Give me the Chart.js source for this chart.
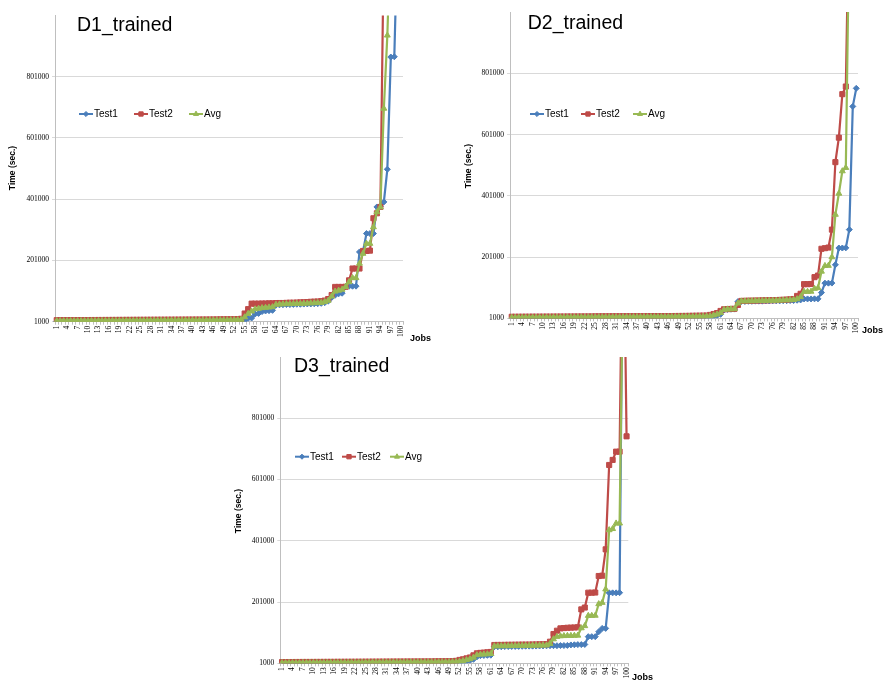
<!DOCTYPE html>
<html><head><meta charset="utf-8">
<script src="https://cdn.jsdelivr.net/npm/chart.js@4"></script>
<style>
html,body{margin:0;padding:0;background:#fff;}
#wrap{position:relative;width:885px;height:686px;overflow:hidden;background:#fff;}
canvas{position:absolute;}
</style></head><body>
<div id="wrap">
<canvas id="c1" width="440" height="345" style="left:0px;top:0px;width:440px;height:345px"></canvas>
<canvas id="c2" width="445" height="345" style="left:440px;top:0px;width:445px;height:345px"></canvas>
<canvas id="c3" width="440" height="346" style="left:220px;top:340px;width:440px;height:346px"></canvas>
</div>
<script>
// ---------- DATA ----------
const jobs = Array.from({length:100}, (_, i) => String(i + 1));
const yTicks = [1000, 201000, 401000, 601000, 801000];
const seriesNames = ['Test1', 'Test2', 'Avg'];
const panelTitles = ['D1_trained', 'D2_trained', 'D3_trained'];
const yAxisTitle = 'Time (sec.)';
const xAxisTitle = 'Jobs';

const d1Test1 = [
1000,1000,1000,1100,1100,1200,1200,1300,1300,1400,
1400,1500,1500,1600,1600,1700,1700,1800,1800,1900,
1900,2000,2000,2100,2100,2200,2200,2300,2300,2400,
2400,2500,2500,2600,2600,2700,2700,2800,2800,2900,
2900,3000,3000,3100,3100,3200,3300,3400,3500,3600,
3700,3900,4100,4500,
5000,12000,13000,26000,28000,34000,36000,37000,38000,55000,
56000,56500,57000,57000,57500,58000,58000,58500,59000,59000,59500,60000,61000,63000,
68000,80000,87500,92000,94000,116000,116800,116800,117000,
228700,230000,288800,288800,288800,375600,378000,392000,498600,865000,866000,1300000,1800000];
const d1Test2 = [
6000,6000,6100,6100,6200,6200,6300,6300,6400,6400,
6500,6500,6600,6600,6700,6700,6800,6800,6900,6900,
7000,7000,7100,7100,7200,7200,7300,7300,7400,7400,
7500,7500,7600,7600,7700,7700,7800,7800,7900,7900,
8000,8000,8100,8100,8200,8300,8400,8500,8600,8700,
8800,9000,9500,10500,
27800,42000,60000,60000,60000,60500,60500,61000,61000,61500,
62000,62000,62500,63000,63000,63500,64000,64500,65000,66000,66500,67000,68000,
70000,75000,88000,114500,114500,114500,115000,
136000,174600,174600,174600,232000,232000,233000,338700,355000,375600,1250000,1500000,1700000,1900000,2100000,2400000];
const d1Avg = [
3500,3500,3600,3600,3700,3700,3800,3800,3900,3900,
4000,4000,4100,4100,4200,4200,4300,4300,4400,4400,
4500,4500,4600,4600,4700,4700,4800,4800,4900,4900,
5000,5000,5100,5100,5200,5200,5300,5300,5400,5400,
5500,5500,5600,5600,5700,5800,5900,6000,6100,6200,
6300,6500,6800,7500,
16000,27000,35000,42000,44000,46000,47000,48000,49000,57000,
58000,58500,59000,59000,59500,60000,60000,60500,61000,61500,62000,62500,63000,
66000,70000,84000,100000,103000,106000,115000,
130900,143900,143900,190900,223500,256000,256000,310000,359000,375000,697000,935800,1300000,1400000,1600000,2000000];

const d2Test1 = [
1000,1000,1000,1100,1100,1200,1200,1300,1300,1400,
1400,1500,1500,1600,1600,1700,1700,1800,1800,1900,
1900,2000,2000,2100,2100,2200,2200,2300,2300,2400,
2400,2500,2500,2600,2600,2700,2700,2800,2800,2900,
2900,3000,3000,3100,3100,3200,3300,3400,3500,3600,
3700,3800,3900,4000,4200,4400,4600,
5000,7000,10000,14000,28000,30000,30500,31000,55500,
56000,56000,56500,56500,57000,57000,57000,57500,57500,58000,58000,58000,58500,58500,59000,59000,
60000,61000,64300,64300,64300,64500,64500,85000,115800,115800,116000,175800,230500,230500,231000,290600,693000,752000];
const d2Test2 = [
6000,6000,6100,6100,6200,6200,6300,6300,6400,6400,
6500,6500,6600,6600,6700,6700,6800,6800,6900,6900,
7000,7000,7100,7100,7200,7200,7300,7300,7400,7400,
7500,7500,7600,7600,7700,7700,7800,7800,7900,7900,
8000,8000,8100,8100,8200,8300,8400,8500,8600,8700,
8800,9000,9200,9400,9600,9800,10000,
12000,15000,18000,25000,30500,31000,31500,32000,44600,
57700,58000,58500,58500,59000,59000,59500,59500,60000,60000,60500,61000,61500,62000,63000,64000,
74000,81000,112500,112500,113000,135400,140600,228000,230000,232000,290600,511000,591000,733000,758000,1400000,1800000,2200000];
const d2Avg = [
3500,3500,3600,3600,3700,3700,3800,3800,3900,3900,
4000,4000,4100,4100,4200,4200,4300,4300,4400,4400,
4500,4500,4600,4600,4700,4700,4800,4800,4900,4900,
5000,5000,5100,5100,5200,5200,5300,5300,5400,5400,
5500,5500,5600,5600,5700,5800,5900,6000,6100,6200,
6300,6400,6500,6700,6900,7100,7300,
8000,11000,14000,19000,29000,30500,31000,31500,50000,
56800,57000,57200,57500,57800,58000,58200,58500,58800,59000,59300,59700,60000,60500,61000,61500,
64000,71000,88000,88000,88500,98000,100000,154000,172500,173000,201000,339800,408600,481700,492800,1300000,1500000,1700000];

const d3Test1 = [
1000,1000,1000,1100,1100,1200,1200,1300,1300,1400,
1400,1500,1500,1600,1600,1700,1700,1800,1800,1900,
1900,2000,2000,2100,2100,2200,2200,2300,2300,2400,
2400,2500,2500,2600,2600,2700,2700,2800,2800,2900,
2900,3000,3000,3100,3100,3200,3300,3400,3500,3600,
3800,4000,5000,7000,10000,14000,22000,26000,26500,27000,27500,55000,
55000,55200,55500,55700,56000,56000,56200,56500,56800,57000,57000,57200,57500,57800,58000,
58500,58500,58500,59000,59000,59500,61000,61500,62000,62000,62500,
88000,88000,88000,104000,115000,115000,231000,231000,231000,231500,1500000,1800000];
const d3Test2 = [
5000,5000,5100,5100,5200,5200,5300,5300,5400,5400,
5500,5500,5600,5600,5700,5700,5800,5800,5900,5900,
6000,6000,6100,6100,6200,6200,6300,6300,6400,6400,
6500,6500,6600,6600,6700,6700,6800,6800,6900,6900,
7000,7000,7100,7100,7200,7300,7400,7500,7600,7800,
9000,12000,14000,17000,20000,27000,33600,35000,36000,37000,38000,60800,
61000,61000,61200,61400,61500,61700,61800,62000,62000,62200,62400,62600,62800,63000,63500,
71500,96600,107400,115000,116000,117000,117500,118000,118500,177000,183000,
231500,231500,232000,286000,287000,373000,648500,665000,692000,692000,1600000,742000];
const d3Avg = [
2500,2500,2600,2600,2700,2700,2800,2800,2900,2900,
3000,3000,3100,3100,3200,3200,3300,3300,3400,3400,
3500,3500,3600,3600,3700,3700,3800,3800,3900,3900,
4000,4000,4100,4100,4200,4200,4300,4300,4400,4400,
4500,4500,4600,4600,4700,4800,4900,5000,5100,5200,
5500,7000,9000,12000,15000,20000,28000,30000,30500,31000,32000,57000,
57200,57400,57500,57700,58000,58200,58400,58600,58800,59000,59200,59400,59600,59800,60000,
65000,80000,88000,90000,90500,91000,91000,91500,92000,116000,123000,
156500,156500,157000,194600,199000,242600,436200,440000,458000,458000,1300000,1600000];

// ---------- STYLE ----------
const colors = ['#4A7EBB', '#BE4B48', '#98B954'];
const pStyles = ['rectRot', 'rect', 'triangle'];
const pRadius = [3, 3.6, 3.4];

const decor = {
  id: 'decor',
  afterDraw(chart, args, o) {
    const ctx = chart.ctx;
    ctx.save();
    ctx.fillStyle = '#000';
    ctx.textAlign = 'left';
    ctx.textBaseline = 'alphabetic';
    ctx.font = '19.5px "Liberation Sans", Arial, sans-serif';
    ctx.fillText(o.title, o.titleX, o.titleY);
    ctx.font = 'bold 8.5px "Liberation Sans", Arial, sans-serif';
    ctx.save();
    ctx.translate(o.yTitleX, o.yTitleY);
    ctx.rotate(-Math.PI / 2);
    ctx.textAlign = 'center';
    ctx.textBaseline = 'middle';
    ctx.fillText(yAxisTitle, 0, 0);
    ctx.restore();
    ctx.font = 'bold 9px "Liberation Sans", Arial, sans-serif';
    ctx.fillText(xAxisTitle, o.jobsX, o.jobsY);
    // legend
    ctx.font = '10px "Liberation Sans", Arial, sans-serif';
    chart.data.datasets.forEach((ds, i) => {
      const x0 = o.legendX[i], y = o.legendY;
      ctx.strokeStyle = ds.borderColor;
      ctx.lineWidth = 2;
      ctx.beginPath(); ctx.moveTo(x0, y); ctx.lineTo(x0 + 14, y); ctx.stroke();
      ctx.fillStyle = ds.borderColor;
      ctx.lineWidth = 1;
      Chart.helpers.drawPoint(ctx, {pointStyle: ds.pointStyle, radius: ds.pointRadius * 0.85, borderWidth: 1, rotation: 0}, x0 + 7, y);
      ctx.fillStyle = '#000';
      ctx.textBaseline = 'middle';
      ctx.fillText(ds.label, x0 + 15, y + 0.5);
    });
    ctx.restore();
  }
};

function makeChart(id, series, cfg) {
  const datasets = series.map((data, i) => ({
    label: seriesNames[i],
    data: data,
    borderColor: colors[i],
    backgroundColor: colors[i],
    pointBackgroundColor: colors[i],
    pointBorderColor: colors[i],
    pointStyle: pStyles[i],
    pointRadius: pRadius[i],
    pointBorderWidth: 1,
    borderWidth: 2.2,
    tension: 0,
    order: 3 - i
  }));
  return new Chart(document.getElementById(id), {
    type: 'line',
    data: {labels: jobs, datasets: datasets},
    options: {
      responsive: false,
      animation: false,
      events: [],
      layout: {padding: {left: 0, top: cfg.top, right: cfg.right, bottom: 0}},
      plugins: {
        legend: {display: false},
        tooltip: {enabled: false},
        decor: cfg.decor
      },
      scales: {
        x: {
          type: 'category',
          offset: true,
          afterFit: s => { s.height = cfg.xH; },
          ticks: {
            autoSkip: false, maxRotation: 90, minRotation: 90, padding: 1,
            font: {family: '"Liberation Serif", "Times New Roman", serif', size: 7.5},
            color: '#000',
            callback: function (v, i) { return i % 3 === 0 ? this.getLabelForValue(v) : ''; }
          },
          grid: {drawOnChartArea: false, drawTicks: true, tickLength: 3, color: '#bfbfbf', offset: true},
          border: {color: '#bfbfbf'}
        },
        y: {
          min: 1000, max: 1001000,
          afterBuildTicks: s => { s.ticks = yTicks.map(v => ({value: v})); },
          afterFit: s => { s.width = cfg.yW; },
          ticks: {
            padding: 3,
            font: {family: '"Liberation Serif", "Times New Roman", serif', size: 7.5},
            color: '#000',
            callback: v => String(v)
          },
          grid: {color: '#d9d9d9', tickLength: 3, drawTicks: true},
          border: {color: '#bfbfbf'}
        }
      }
    },
    plugins: [decor]
  });
}

makeChart('c1', [d1Test1, d1Test2, d1Avg], {
  top: 15.4, right: 37, xH: 23.3, yW: 55,
  decor: {title: panelTitles[0], titleX: 77, titleY: 30.7, yTitleX: 13, yTitleY: 168,
    jobsX: 410, jobsY: 341, legendX: [79, 134, 189], legendY: 114}
});
makeChart('c2', [d2Test1, d2Test2, d2Avg], {
  top: 12.1, right: 27, xH: 26.7, yW: 70,
  decor: {title: panelTitles[1], titleX: 87.7, titleY: 29.3, yTitleX: 29, yTitleY: 166,
    jobsX: 422, jobsY: 333, legendX: [90, 141, 193], legendY: 114}
});
makeChart('c3', [d3Test1, d3Test2, d3Avg], {
  top: 17, right: 31.7, xH: 22.7, yW: 60.3,
  decor: {title: panelTitles[2], titleX: 74, titleY: 32.3, yTitleX: 19, yTitleY: 171,
    jobsX: 412, jobsY: 340, legendX: [75, 122, 170], legendY: 116.7}
});
</script>
</body></html>
